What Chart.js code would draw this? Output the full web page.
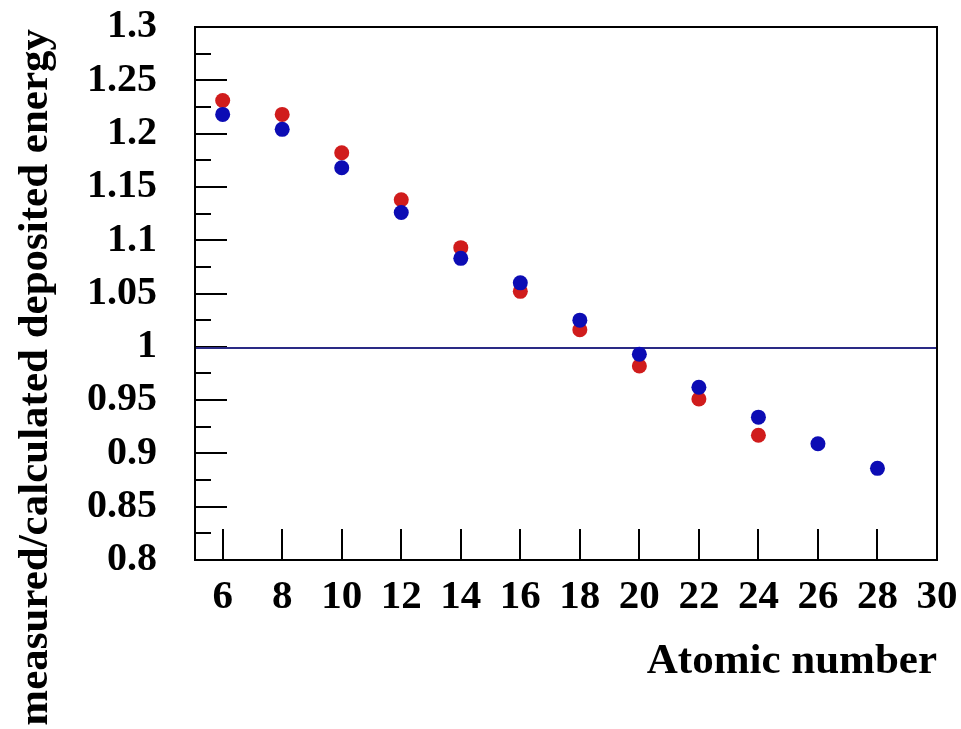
<!DOCTYPE html>
<html lang="en-US">
  <head>
    <meta charset="utf-8" />
    <title>measured/calculated deposited energy</title>
    <script src="https://cdn.jsdelivr.net/npm/chart.js@4.4.0/dist/chart.umd.min.js"></script>
    <style>
      body { margin: 0; background: #fff; }
      .wrap { width: 961px; height: 729px; }
    </style>
  </head>
  <body>
    <div class="wrap"><canvas id="chart" width="961" height="729"></canvas></div>

    <script>
      // data
      const atomicNumbers = [6, 8, 10, 12, 14, 16, 18, 20, 22, 24, 26, 28];
      const redValues  = [1.231, 1.218, 1.182, 1.138, 1.093, 1.052, 1.016, 0.982, 0.951, 0.917];
      const blueValues = [1.218, 1.204, 1.168, 1.126, 1.083, 1.060, 1.025, 0.993, 0.962, 0.934, 0.909, 0.886];
      const refValue = 1.0;

      const xTicks = [6, 8, 10, 12, 14, 16, 18, 20, 22, 24, 26, 28, 30];
      const yTicks = [0.8, 0.85, 0.9, 0.95, 1, 1.05, 1.1, 1.15, 1.2, 1.25, 1.3];
      const yTickLabels = ["0.8", "0.85", "0.9", "0.95", "1", "1.05", "1.1", "1.15", "1.2", "1.25", "1.3"];
      const yTitle = "measured/calculated deposited energy";
      const xTitle = "Atomic number";

      const FONT = "'Liberation Serif', 'Times New Roman', serif";

      // frame, inside ticks, reference line and rotated y title
      const framePlugin = {
        id: "frame",
        beforeDatasetsDraw(chart) {
          const { ctx, chartArea: a, scales: { x, y } } = chart;
          ctx.save();
          ctx.strokeStyle = "#000";
          ctx.lineWidth = 2;
          ctx.beginPath();
          xTicks.forEach(v => {
            const px = Math.round(x.getPixelForValue(v));
            ctx.moveTo(px, a.bottom);
            ctx.lineTo(px, a.bottom - 31);
          });
          for (let i = 0; i < yTicks.length; i++) {
            const py = Math.round(y.getPixelForValue(yTicks[i]));
            ctx.moveTo(a.left, py);
            ctx.lineTo(a.left + 32, py);
            if (i < yTicks.length - 1) {
              const mid = Math.round(y.getPixelForValue((yTicks[i] + yTicks[i + 1]) / 2));
              ctx.moveTo(a.left, mid);
              ctx.lineTo(a.left + 16, mid);
            }
          }
          ctx.stroke();

          // line at 1
          const ry = Math.round(y.getPixelForValue(refValue)) + 1;
          ctx.strokeStyle = "#2a2a85";
          ctx.beginPath();
          ctx.moveTo(a.left, ry);
          ctx.lineTo(a.right, ry);
          ctx.stroke();
          ctx.restore();
        },
        afterDraw(chart) {
          const { ctx, chartArea: a } = chart;
          ctx.save();
          ctx.strokeStyle = "#000";
          ctx.lineWidth = 2;
          ctx.strokeRect(a.left, a.top, a.right - a.left, a.bottom - a.top);

          ctx.translate(47, a.top + 2);
          ctx.rotate(-Math.PI / 2);
          ctx.fillStyle = "#000";
          ctx.font = "bold 43px " + FONT;
          ctx.textAlign = "right";
          ctx.textBaseline = "alphabetic";
          ctx.fillText(yTitle, 0, 0);
          ctx.restore();
        }
      };

      new Chart(document.getElementById("chart"), {
        type: "scatter",
        data: {
          datasets: [
            {
              label: "red",
              data: redValues.map((v, i) => ({ x: atomicNumbers[i], y: v })),
              backgroundColor: "#d01c1c",
              borderColor: "#d01c1c",
              pointRadius: 7.5,
              pointBorderWidth: 0,
              order: 2
            },
            {
              label: "blue",
              data: blueValues.map((v, i) => ({ x: atomicNumbers[i], y: v })),
              backgroundColor: "#0c0cb4",
              borderColor: "#0c0cb4",
              pointRadius: 7.5,
              pointBorderWidth: 0,
              order: 1
            }
          ]
        },
        options: {
          responsive: false,
          animation: false,
          layout: { padding: { top: 27, right: 24, left: 0, bottom: 0 } },
          plugins: {
            legend: { display: false },
            tooltip: { enabled: false }
          },
          scales: {
            x: {
              type: "linear",
              min: 5.07,
              max: 30,
              afterBuildTicks: s => { s.ticks = xTicks.map(v => ({ value: v })); },
              afterFit: s => { s.height = 169; s.paddingLeft = 0; s.paddingRight = 0; },
              grid: { display: false, drawTicks: false },
              border: { display: false },
              ticks: {
                color: "#000",
                padding: 13,
                maxRotation: 0,
                autoSkip: false,
                font: { family: FONT, size: 41, weight: "bold" }
              },
              title: {
                display: true,
                text: xTitle,
                align: "end",
                color: "#000",
                padding: { top: 0, bottom: 41 },
                font: { family: FONT, size: 43, weight: "bold" }
              }
            },
            y: {
              min: 0.8,
              max: 1.3,
              afterBuildTicks: s => { s.ticks = yTicks.map(v => ({ value: v })); },
              afterFit: s => { s.width = 195; s.paddingTop = 0; s.paddingBottom = 0; },
              grid: { display: false, drawTicks: false },
              border: { display: false },
              ticks: {
                color: "#000",
                padding: 38,
                autoSkip: false,
                callback: (v, i) => yTickLabels[i],
                font: { family: FONT, size: 40, weight: "bold" }
              }
            }
          }
        },
        plugins: [framePlugin]
      });
    </script>
  </body>
</html>
